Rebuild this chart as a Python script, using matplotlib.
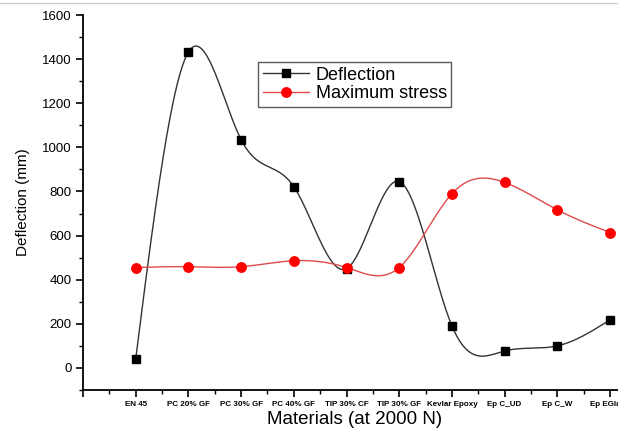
import numpy as np
import matplotlib
matplotlib.use("Agg")
import matplotlib.pyplot as plt
from matplotlib.ticker import FixedLocator, MultipleLocator
from matplotlib.lines import Line2D

materials = ["EN 45", "PC 20% GF", "PC 30% GF", "PC 40% GF", "TIP 30% CF",
             "TIP 30% GF", "Kevlar Epoxy", "Ep C_UD", "Ep C_W", "Ep EGlass"]
deflection = [40, 1432, 1035, 822, 450, 845, 191, 77, 100, 218]
max_stress = [455, 459, 459, 486, 455, 455, 790, 841, 717, 614]

plt.rcParams["font.family"] = ["Liberation Sans", "DejaVu Sans"]


def natural_spline(x, y, n=400):
    x = np.asarray(x, float)
    y = np.asarray(y, float)
    k = len(x)
    h = np.diff(x)
    A = np.zeros((k, k))
    b = np.zeros(k)
    A[0, 0] = 1
    A[-1, -1] = 1
    for i in range(1, k - 1):
        A[i, i - 1] = h[i - 1]
        A[i, i] = 2 * (h[i - 1] + h[i])
        A[i, i + 1] = h[i]
        b[i] = 6 * ((y[i + 1] - y[i]) / h[i] - (y[i] - y[i - 1]) / h[i - 1])
    M = np.linalg.solve(A, b)
    xs = np.linspace(x[0], x[-1], n)
    idx = np.clip(np.searchsorted(x, xs) - 1, 0, k - 2)
    x0, x1 = x[idx], x[idx + 1]
    hh = x1 - x0
    t0 = x1 - xs
    t1 = xs - x0
    ys = (M[idx] * t0 ** 3 / (6 * hh) + M[idx + 1] * t1 ** 3 / (6 * hh)
          + (y[idx] / hh - M[idx] * hh / 6) * t0
          + (y[idx + 1] / hh - M[idx + 1] * hh / 6) * t1)
    return xs, ys


W, H = 618, 437
fig = plt.figure(figsize=(W / 100, H / 100), dpi=100)
xmax = 10.3
px_per_unit = 52.7
ax = fig.add_axes([83 / W, 47 / H, xmax * px_per_unit / W, 375 / H])

xpos = np.arange(1, len(materials) + 1)

xs, ys = natural_spline(xpos, deflection)
ax.plot(xs, ys, color="#333333", lw=1.0, zorder=2)
ax.plot(xpos, deflection, ls="none", marker="s", ms=5.8, color="black", zorder=3)

xs2, ys2 = natural_spline(xpos, max_stress)
ax.plot(xs2, ys2, color="#e04a4a", lw=1.0, zorder=2)
ax.plot(xpos, max_stress, ls="none", marker="o", ms=6.8, color="red", zorder=3)

ax.set_xlim(0, xmax)
ax.set_ylim(-100, 1600)
ax.spines["top"].set_visible(False)
ax.spines["right"].set_visible(False)
for s in ("left", "bottom"):
    ax.spines[s].set_linewidth(1.3)

ax.xaxis.set_major_locator(FixedLocator(np.arange(0, 11)))
ax.set_xticklabels([""] + materials, fontsize=5.8, fontweight="bold")
ax.xaxis.set_minor_locator(MultipleLocator(0.5))
ax.yaxis.set_major_locator(FixedLocator(np.arange(0, 1601, 200)))
ax.yaxis.set_minor_locator(MultipleLocator(100))
ax.tick_params(axis="both", which="major", direction="out", length=5, width=1.2)
ax.tick_params(axis="both", which="minor", direction="out", length=3, width=1.0)
ax.tick_params(axis="y", labelsize=9.5, pad=3)
ax.tick_params(axis="x", pad=3)

ax.set_xlabel("Materials (at 2000 N)", fontsize=13.5, labelpad=2)
ax.set_ylabel("Deflection (mm)", fontsize=11, labelpad=9)

handles = [Line2D([], [], color="#333333", lw=1.0, marker="s", ms=5.8,
                  markerfacecolor="black", markeredgecolor="black"),
           Line2D([], [], color="#e04a4a", lw=1.0, marker="o", ms=6.8,
                  markerfacecolor="red", markeredgecolor="red")]
leg = fig.legend(handles, ["Deflection", "Maximum stress"], loc="upper left",
                 bbox_to_anchor=(258 / W, 1 - 62 / H), fontsize=13,
                 frameon=True, fancybox=False, edgecolor="#333333",
                 borderpad=0.25, labelspacing=0.1, handlelength=2.6,
                 handletextpad=0.35, borderaxespad=0)
leg.get_frame().set_linewidth(1.0)

fig.add_artist(Line2D([0, 1], [1 - 2.5 / H, 1 - 2.5 / H], transform=fig.transFigure,
                      color="#cccccc", lw=1.0))

fig.savefig("out.png", dpi=100)
